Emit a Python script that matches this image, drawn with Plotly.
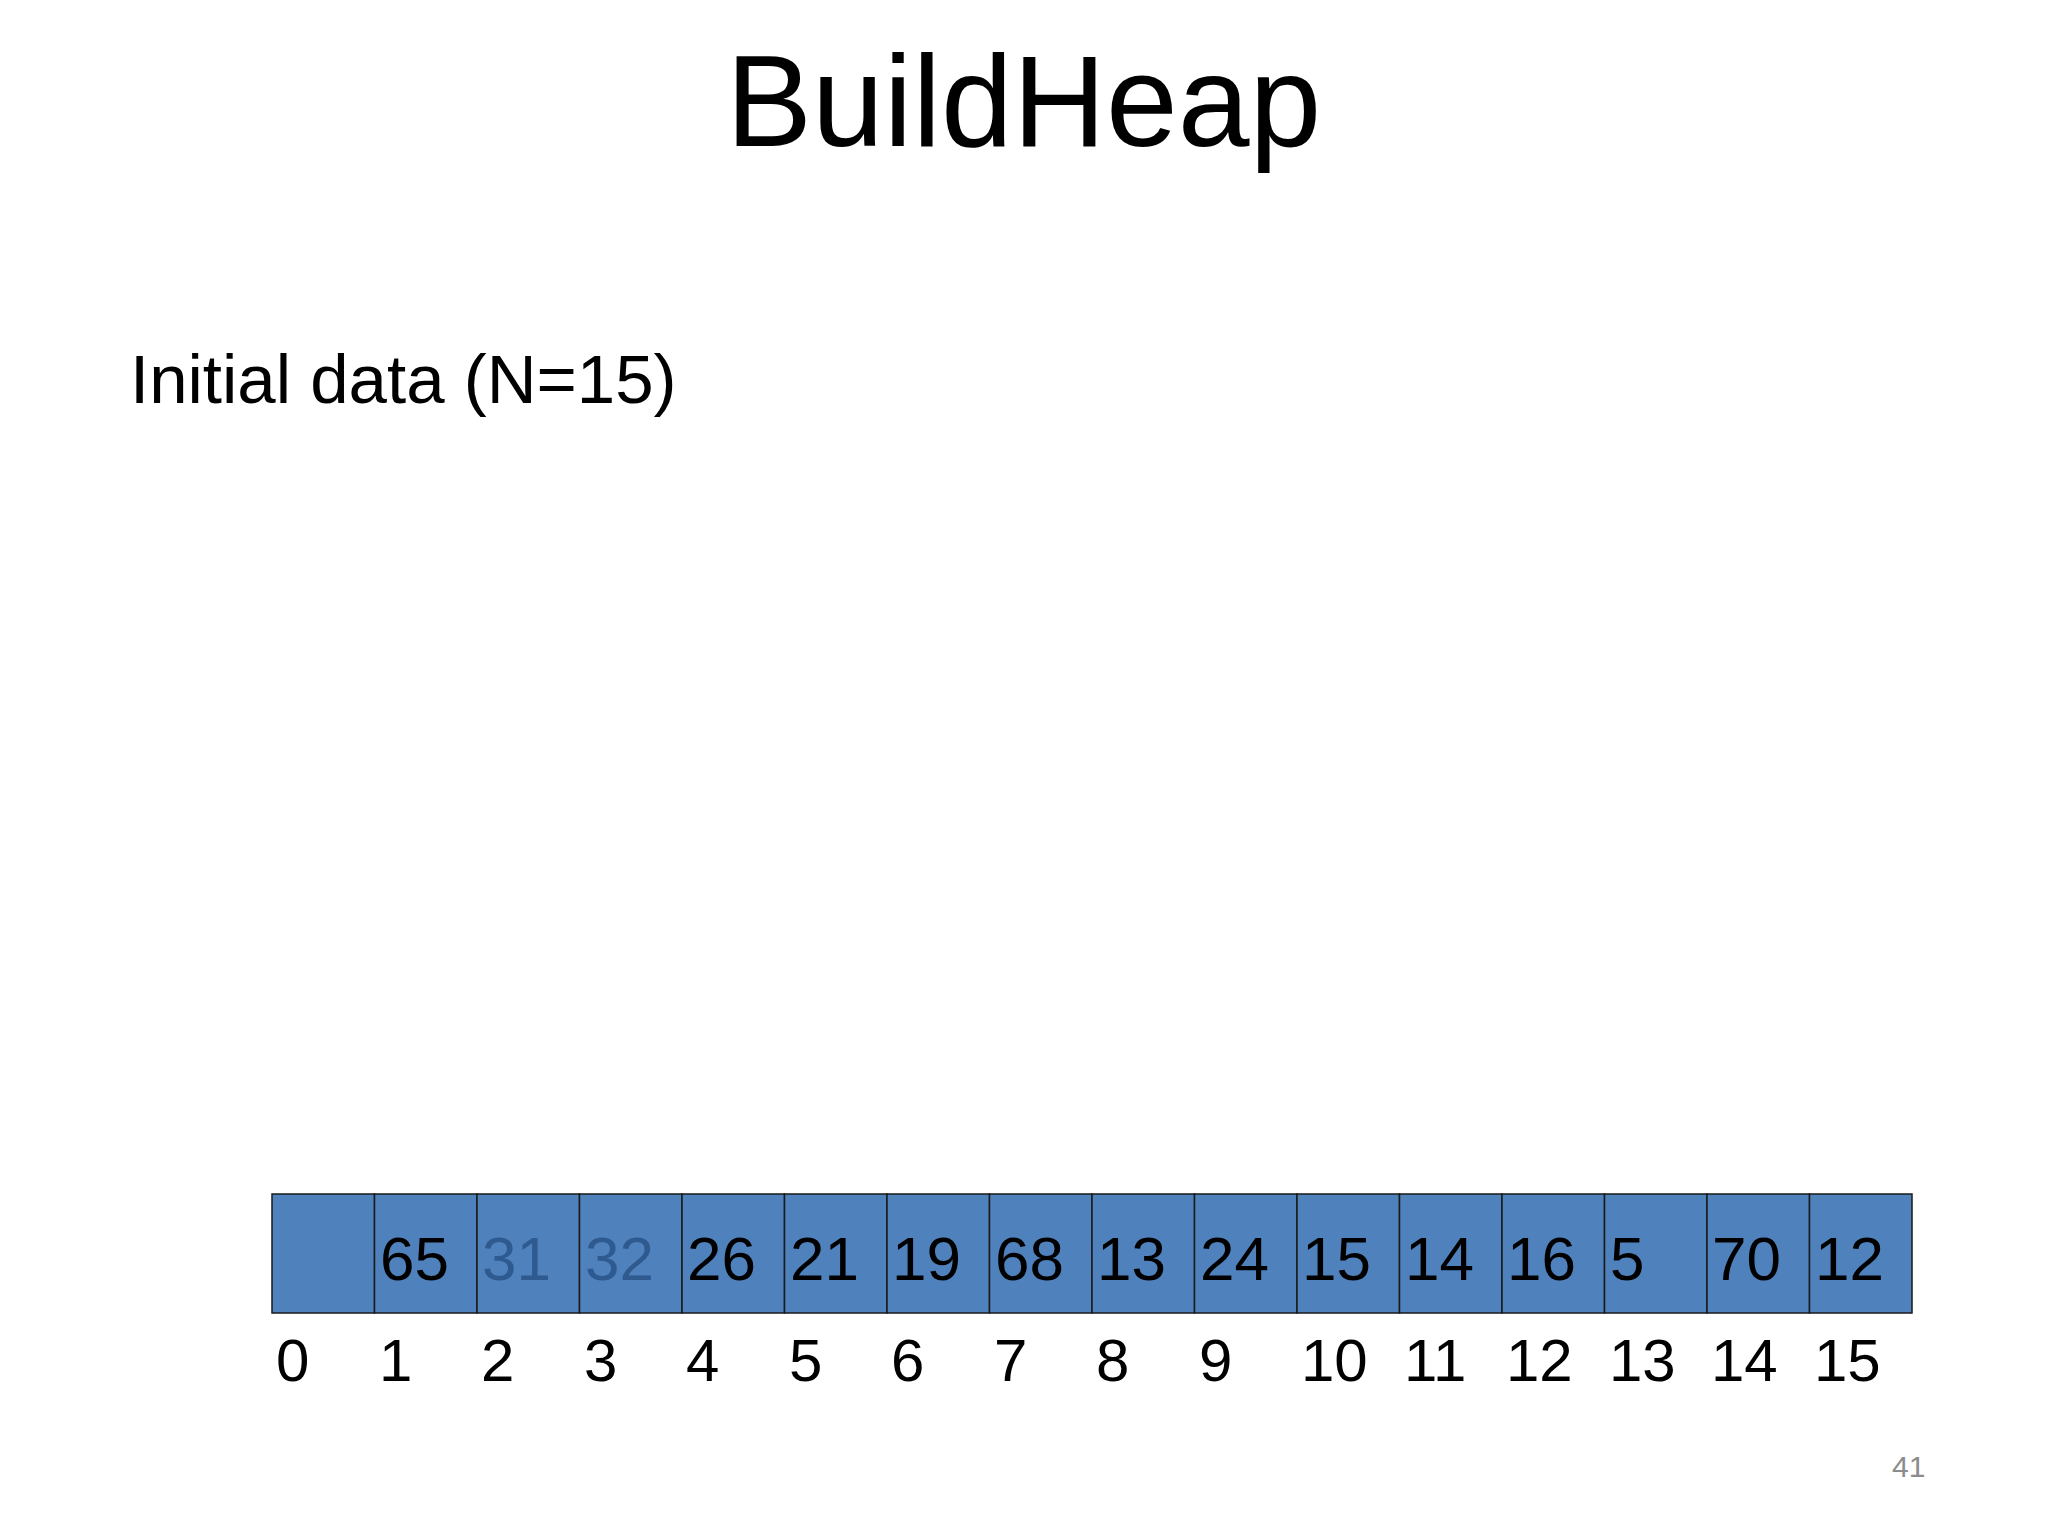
import plotly.graph_objects as go

# array contents, slot 0 is unused
values = [None, 65, 31, 32, 26, 21, 19, 68, 13, 24, 15, 14, 16, 5, 70, 12]
indices = list(range(16))
# slots 2 and 3 are drawn in a darker blue
highlight = {2, 3}

CELL_PX = 102.5
LEFT_PX = 264
TOP_PX, BOT_PX = 1186, 1305

fig = go.Figure()
fig.add_trace(go.Bar(
    x=[i + 0.5 for i in indices],
    y=[BOT_PX - TOP_PX] * len(indices),
    base=[TOP_PX] * len(indices),
    width=1.0,
    marker=dict(color="#4F81BD", line=dict(color="#1a1a1a", width=1.5)),
    hoverinfo="skip",
    showlegend=False,
))

for i, v in zip(indices, values):
    if v is not None:
        fig.add_annotation(
            x=i + 0.03, y=(TOP_PX + BOT_PX) / 2 + 5, text=str(v),
            xanchor="left", yanchor="middle", showarrow=False,
            font=dict(size=62, color="#2E5A8F" if i in highlight else "black"),
        )
    fig.add_annotation(
        x=i + 0.02, y=1352, text=str(i),
        xanchor="left", yanchor="middle", showarrow=False,
        font=dict(size=60, color="black"),
    )

fig.add_annotation(x=0.496, y=93, xref="paper", text="BuildHeap", showarrow=False,
                   xanchor="center", yanchor="middle", font=dict(size=129, color="black"))
fig.add_annotation(x=120 / 2048, y=371, xref="paper", text="Initial data (N=15)",
                   showarrow=False, xanchor="left", yanchor="middle",
                   font=dict(size=69, color="black"))
fig.add_annotation(x=1900 / 2048, y=1458, xref="paper", text="41", showarrow=False,
                   xanchor="center", yanchor="middle", font=dict(size=30, color="#8c8c8c"))

fig.update_layout(
    width=2048, height=1536,
    margin=dict(l=0, r=0, t=0, b=0),
    paper_bgcolor="white", plot_bgcolor="white",
    font=dict(family="Liberation Sans, Arial, sans-serif"),
    xaxis=dict(range=[-LEFT_PX / CELL_PX, (2048 - LEFT_PX) / CELL_PX], visible=False),
    yaxis=dict(range=[1536, 0], visible=False),
)

fig.write_html("out.html")
